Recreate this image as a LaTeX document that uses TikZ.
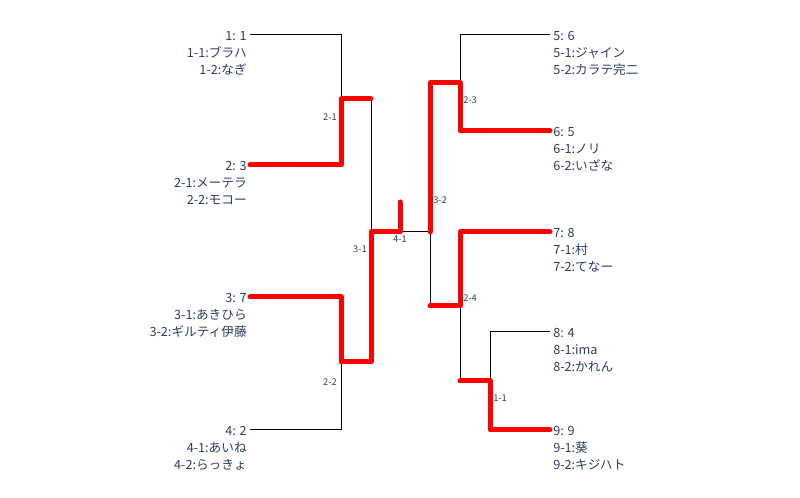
\documentclass[tikz,border=0pt]{standalone}
\usepackage{fontspec}
\setmainfont{Noto Sans CJK JP}
\usetikzlibrary{positioning}
\definecolor{ink}{HTML}{2A3F5F}

\begin{document}
\begin{tikzpicture}[x=0.75pt,y=-0.75pt,
    team/.style={font=\fontsize{9.5}{12.75}\selectfont,text=ink,inner sep=0pt},
    lteam/.style={team,align=right,anchor=north east},
    rteam/.style={team,align=left,anchor=north west},
    match/.style={font=\fontsize{7}{8}\selectfont,text=ink,inner sep=0pt},
    line/.style={draw=black,line width=0.75pt},
    win/.style={draw=red,line width=3.75pt,line cap=round,line join=round}]
    \useasboundingbox (0,0) rectangle (800,498);

    % left half
    \coordinate (e1) at (250,35);
    \coordinate (e2) at (250,165);
    \coordinate (e3) at (250,297);
    \coordinate (e4) at (250,430);
    \coordinate (m21) at (341,99);
    \coordinate (m22) at (341,362);
    \coordinate (m31) at (371,232);
    % right half
    \coordinate (e5) at (550,35);
    \coordinate (e6) at (550,131);
    \coordinate (e7) at (550,232);
    \coordinate (e8) at (550,332);
    \coordinate (e9) at (550,430);
    \coordinate (m23) at (460,83);
    \coordinate (m24) at (460,306);
    \coordinate (m11) at (490,381);
    \coordinate (m32) at (430,232);
    % final
    \coordinate (m41) at (400,232);
    \coordinate (crown) at (400,202);

    \node[lteam] (t1) at ([shift={(-3,-4)}]e1) {1: 1\\1-1:ブラハ\\1-2:なぎ};
    \node[lteam] (t2) at ([shift={(-3,-4)}]e2) {2: 3\\2-1:メーテラ\\2-2:モコー};
    \node[lteam] (t3) at ([shift={(-3,-4)}]e3) {3: 7\\3-1:あきひら\\3-2:ギルティ伊藤};
    \node[lteam] (t4) at ([shift={(-3,-4)}]e4) {4: 2\\4-1:あいね\\4-2:らっきょ};
    \node[rteam] (t5) at ([shift={(3,-4)}]e5) {5: 6\\5-1:ジャイン\\5-2:カラテ完二};
    \node[rteam] (t6) at ([shift={(3,-4)}]e6) {6: 5\\6-1:ノリ\\6-2:いざな};
    \node[rteam] (t7) at ([shift={(3,-4)}]e7) {7: 8\\7-1:村\\7-2:てなー};
    \node[rteam] (t8) at ([shift={(3,-4)}]e8) {8: 4\\8-1:ima\\8-2:かれん};
    \node[rteam] (t9) at ([shift={(3,-4)}]e9) {9: 9\\9-1:葵\\9-2:キジハト};

    \node[match,anchor=east] (l21) at ([shift={(-4,18)}]m21) {2-1};
    \node[match,anchor=east] (l22) at ([shift={(-4,20)}]m22) {2-2};
    \node[match,anchor=east] (l31) at ([shift={(-4,17)}]m31) {3-1};
    \node[match,anchor=west] (l23) at ([shift={(3,17)}]m23) {2-3};
    \node[match,anchor=west] (l24) at ([shift={(3,-8)}]m24) {2-4};
    \node[match,anchor=west] (l11) at ([shift={(3,17)}]m11) {1-1};
    \node[match,anchor=west] (l32) at ([shift={(3,-32)}]m32) {3-2};
    \node[match] (l41) at ([shift={(0,7)}]m41) {4-1};

    % losing sides
    \draw[line] (e1) -| (m21);
    \draw[line] (m21) -| (m31);
    \draw[line] (e4) -| (m22);
    \draw[line] (e5) -| (m23);
    \draw[line] (e8) -| (m11);
    \draw[line] (m11) -| (m24);
    \draw[line] (m24) -| (m32);
    \draw[line] (m41) -- (m32);

    % winners
    \draw[win] (e2) -| (m21) -- (m21 -| m31);
    \draw[win] (e3) -| (m22) -| (m31) -- (m41) -- (crown);
    \draw[win] (e6) -| (m23) -| (m32);
    \draw[win] (e7) -| (m24) -- (m24 -| m32);
    \draw[win] (e9) -| (m11) -- (m11 -| m24);
\end{tikzpicture}
\end{document}
